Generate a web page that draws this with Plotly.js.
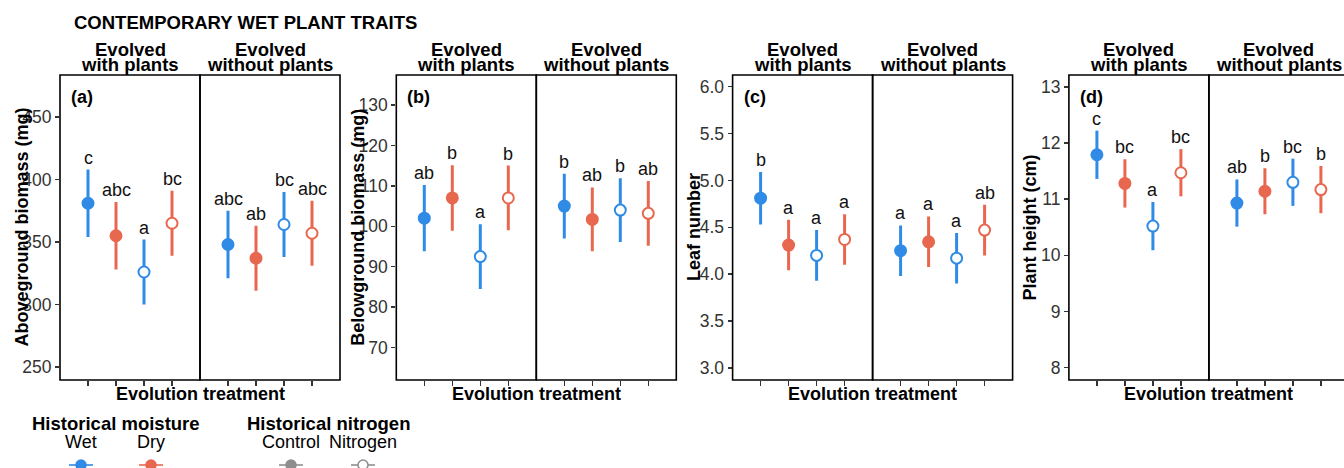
<!DOCTYPE html>
<html><head><meta charset="utf-8">
<script src="https://cdn.plot.ly/plotly-3.0.1.min.js"></script>
<style>html,body{margin:0;padding:0;background:#fff;} #chart{width:1344px;height:468px;}</style>
</head><body><div id="chart"></div>
<script>
// ---------- DATA ----------
const facets = ["Evolved with plants", "Evolved without plants"];
const treatments = ["Wet control", "Dry control", "Wet nitrogen", "Dry nitrogen"];
const moisture = ["Wet", "Dry", "Wet", "Dry"];
const nitrogen = ["Control", "Control", "Nitrogen", "Nitrogen"];

const panelIds = ["(a)", "(b)", "(c)", "(d)"];
const yTitles = ["Aboveground biomass (mg)", "Belowground biomass (mg)", "Leaf number", "Plant height (cm)"];

// first four values: evolved with plants; last four: evolved without plants
const aboveMean = [381, 355, 326, 365, 348, 337, 364, 357];
const aboveSE = [27, 27, 26, 26, 27, 26, 26, 26];
const aboveLetters = ["c", "abc", "a", "bc", "abc", "ab", "bc", "abc"];

const belowMean = [102, 107, 92.5, 107, 105, 101.7, 104, 103.2];
const belowSE = [8.2, 8.1, 8, 8, 8, 7.9, 7.9, 8];
const belowLetters = ["ab", "b", "a", "b", "b", "ab", "b", "ab"];

const leafMean = [4.81, 4.31, 4.2, 4.37, 4.25, 4.345, 4.17, 4.47];
const leafSE = [0.28, 0.27, 0.27, 0.27, 0.27, 0.27, 0.27, 0.27];
const leafLetters = ["b", "a", "a", "a", "a", "a", "a", "ab"];

const heightMean = [11.79, 11.28, 10.52, 11.47, 10.93, 11.14, 11.3, 11.17];
const heightSE = [0.43, 0.43, 0.43, 0.42, 0.42, 0.41, 0.42, 0.42];
const heightLetters = ["c", "bc", "a", "bc", "ab", "b", "bc", "b"];

const legendMoisture = ["Wet", "Dry"];
const legendNitrogen = ["Control", "Nitrogen"];

// ---------- STYLE / LAYOUT ----------
const W = 1344, H = 468;
const colors = { Wet: "#2F8BE6", Dry: "#E8674F" };
const gray = "#8E8E8E";
const font = "Liberation Sans, Arial, sans-serif";
const px = x => x / W;
const py = y => 1 - y / H;

const panels = [
  { mean: aboveMean, se: aboveSE, letters: aboveLetters, range: [239.6, 483.6], tickvals: [250, 300, 350, 400, 450], fmt: "" },
  { mean: belowMean, se: belowSE, letters: belowLetters, range: [62.0, 137.4], tickvals: [70, 80, 90, 100, 110, 120, 130], fmt: "" },
  { mean: leafMean, se: leafSE, letters: leafLetters, range: [2.87, 6.125], tickvals: [3, 3.5, 4, 4.5, 5, 5.5, 6], fmt: ".1f" },
  { mean: heightMean, se: heightSE, letters: heightLetters, range: [7.78, 13.21], tickvals: [8, 9, 10, 11, 12, 13], fmt: "" }
];

const plotTop = 75, plotBot = 380;
const facetW = 140, unit = 28;
const yDom = [py(plotBot), py(plotTop)];

const layout = {
  width: W, height: H,
  margin: { l: 0, r: 0, t: 0, b: 0 },
  paper_bgcolor: "#fff", plot_bgcolor: "rgba(0,0,0,0)",
  showlegend: false,
  font: { family: font, color: "#000" },
  annotations: [], shapes: []
};
const traces = [];

layout.annotations.push({
  text: "<b>CONTEMPORARY WET PLANT TRAITS</b>", xref: "paper", yref: "paper",
  x: px(72), y: py(22), xanchor: "left", yanchor: "middle", showarrow: false,
  font: { size: 18.5, family: font, color: "#000" }
});

panels.forEach((p, k) => {
  const left = 60 + 336.3 * k;
  const yName = k === 0 ? "y" : "y" + (k + 1);
  const yKey = k === 0 ? "yaxis" : "yaxis" + (k + 1);
  facets.forEach((f, j) => {
    const idx = 2 * k + j + 1;
    const xName = idx === 1 ? "x" : "x" + idx;
    const xKey = idx === 1 ? "xaxis" : "xaxis" + idx;
    const x0 = left + j * facetW;
    let x1 = x0 + facetW;
    let rng = [-1, 4];
    if (x1 > W) { rng = [-1, -1 + (W - x0) / unit]; x1 = W; }
    layout[xKey] = {
      domain: [px(x0), px(x1)], anchor: yName, type: "category",
      categoryorder: "array", categoryarray: treatments, range: rng,
      showgrid: false, zeroline: false, showline: false, showticklabels: false,
      ticks: "outside", ticklen: 5, tickwidth: 1.5, tickcolor: "#333", fixedrange: true
    };
    // facet box
    layout.shapes.push({
      type: "rect", xref: xName + " domain", yref: yName + " domain",
      x0: 0, x1: (x0 + facetW > W) ? facetW / (W - x0) : 1, y0: 0, y1: 1,
      line: { color: "#000", width: 1.6 }, layer: "above"
    });
    // strip label
    const cx = px(x0 + facetW / 2);
    const stripLines = f === facets[0] ? ["Evolved", "with plants"] : ["Evolved", "without plants"];
    layout.annotations.push({ text: "<b>" + stripLines[0] + "</b>", xref: "paper", yref: "paper",
      x: cx, y: py(49.5), xanchor: "center", yanchor: "middle", showarrow: false,
      font: { size: 18.5, family: font, color: "#000" } });
    layout.annotations.push({ text: "<b>" + stripLines[1] + "</b>", xref: "paper", yref: "paper",
      x: cx, y: py(64.5), xanchor: "center", yanchor: "middle", showarrow: false,
      font: { size: 18.5, family: font, color: "#000" } });

    // points: one trace per moisture level
    ["Wet", "Dry"].forEach(m => {
      const ids = [0, 1, 2, 3].filter(i => moisture[i] === m);
      const off = j * 4;
      traces.push({
        type: "scatter", mode: "markers", xaxis: xName, yaxis: yName,
        x: ids.map(i => treatments[i]),
        y: ids.map(i => p.mean[off + i]),
        error_y: { type: "data", array: ids.map(i => p.se[off + i]), visible: true,
                   thickness: 3, width: 0, color: colors[m] },
        marker: { size: 11, symbol: "circle",
                  color: ids.map(i => nitrogen[i] === "Control" ? colors[m] : "#fff"),
                  line: { color: colors[m], width: 2 } },
        hoverinfo: "skip", cliponaxis: false
      });
      ids.forEach(i => {
        layout.annotations.push({
          text: p.letters[off + i], xref: xName, yref: yName,
          x: treatments[i], y: p.mean[off + i] + p.se[off + i],
          xanchor: "center", yanchor: "bottom", yshift: 0, showarrow: false,
          font: { size: 18, family: font, color: "#111" }
        });
      });
    });
  });
  layout[yKey] = {
    domain: yDom, anchor: k === 0 ? "x" : "x" + (2 * k + 1), range: p.range,
    tickvals: p.tickvals, tickformat: p.fmt, showgrid: false, zeroline: false, showline: false,
    ticks: "outside", ticklen: 4, tickwidth: 1.5, tickcolor: "#333",
    tickfont: { size: 17.5, family: font, color: "#333" }, fixedrange: true
  };
  // y title
  layout.annotations.push({ text: "<b>" + yTitles[k] + "</b>", xref: "paper", yref: "paper",
    x: px(left - 39), y: py((plotTop + plotBot) / 2), xanchor: "center", yanchor: "middle",
    textangle: -90, showarrow: false, font: { size: 18, family: font, color: "#000" } });
  // panel id
  layout.annotations.push({ text: "<b>" + panelIds[k] + "</b>", xref: "paper", yref: "paper",
    x: px(left + 9), y: py(97), xanchor: "left", yanchor: "middle", showarrow: false,
    font: { size: 18, family: font, color: "#000" } });
  // x title
  layout.annotations.push({ text: "<b>Evolution treatment</b>", xref: "paper", yref: "paper",
    x: px(left + facetW), y: py(394), xanchor: "center", yanchor: "middle", showarrow: false,
    font: { size: 18, family: font, color: "#000" } });
});

// ---------- LEGEND (drawn manually) ----------
const legTitleY = 423, legLabY = 442, legKeyY = 465;
layout.annotations.push({ text: "<b>Historical moisture</b>", xref: "paper", yref: "paper",
  x: px(116), y: py(legTitleY), xanchor: "center", yanchor: "middle", showarrow: false,
  font: { size: 18.5, family: font, color: "#000" } });
layout.annotations.push({ text: "<b>Historical nitrogen</b>", xref: "paper", yref: "paper",
  x: px(328), y: py(legTitleY), xanchor: "center", yanchor: "middle", showarrow: false,
  font: { size: 18.5, family: font, color: "#000" } });
const legItems = [
  { label: legendMoisture[0], cx: 81, color: colors.Wet, fill: colors.Wet },
  { label: legendMoisture[1], cx: 151, color: colors.Dry, fill: colors.Dry },
  { label: legendNitrogen[0], cx: 291, color: gray, fill: gray },
  { label: legendNitrogen[1], cx: 363, color: gray, fill: "#fff" }
];
legItems.forEach(it => {
  layout.annotations.push({ text: it.label, xref: "paper", yref: "paper",
    x: px(it.cx), y: py(legLabY), xanchor: "center", yanchor: "middle", showarrow: false,
    font: { size: 18, family: font, color: "#000" } });
  layout.shapes.push({ type: "line", xref: "paper", yref: "paper",
    x0: px(it.cx - 12), x1: px(it.cx + 12), y0: py(legKeyY), y1: py(legKeyY),
    line: { color: it.color, width: 1.6 } });
  layout.shapes.push({ type: "circle", xref: "paper", yref: "paper",
    x0: px(it.cx - 5), x1: px(it.cx + 5), y0: py(legKeyY + 5), y1: py(legKeyY - 5),
    fillcolor: it.fill, line: { color: it.color, width: 1.5 } });
});

Plotly.newPlot("chart", traces, layout, { staticPlot: true, displayModeBar: false });
</script>
</body></html>
